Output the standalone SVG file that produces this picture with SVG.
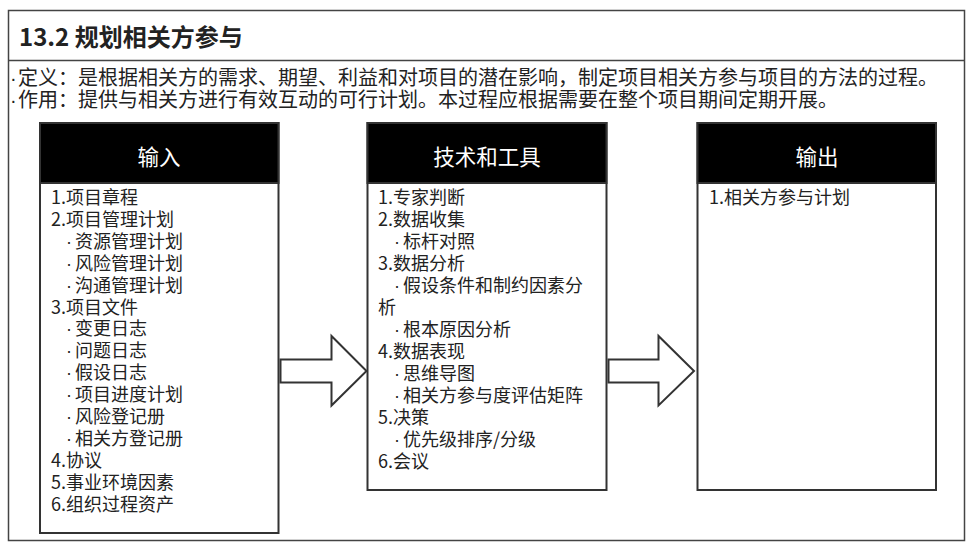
<svg xmlns="http://www.w3.org/2000/svg" width="975" height="550" viewBox="0 0 975 550">
<style>
text { font-family: "Noto Sans CJK SC", "Noto Sans", sans-serif; fill: #222; }
.title { font-size: 24px; font-weight: bold; }
.def { font-size: 20px; }
.hdr { font-size: 21.5px; fill: #fff; text-anchor: middle; }
.item { font-size: 18px; }
.dot { font-family: "Liberation Sans", sans-serif; }
.frame { fill: none; stroke: #444; stroke-width: 1.5; }
.box { fill: #fff; stroke: #333; stroke-width: 2; }
.head { fill: #000; stroke: #333; stroke-width: 2; }
.arrow { fill: #fff; stroke: #333; stroke-width: 2; stroke-linejoin: miter; }
</style>
<rect x="0" y="0" width="975" height="550" fill="#fff"/>
<g id="frame">
<rect class="frame" x="8.5" y="10.5" width="956" height="530"/>
<line class="frame" x1="8.5" y1="60.5" x2="964.5" y2="60.5"/>
<text class="title" x="19" y="46">13.2 规划相关方参与</text>
<text class="def" x="10" y="85"><tspan class="dot">·</tspan><tspan x="18">定义：是根据相关方的需求、期望、利益和对项目的潜在影响，制定项目相关方参与项目的方法的过程。</tspan></text>
<text class="def" x="10" y="107"><tspan class="dot">·</tspan><tspan x="18">作用：提供与相关方进行有效互动的可行计划。本过程应根据需要在整个项目期间定期开展。</tspan></text>
</g>
<g id="input">
<rect class="box" x="40" y="123" width="238.5" height="410"/>
<rect class="head" x="40" y="123" width="238.5" height="60"/>
<text class="hdr" x="159" y="165">输入</text>
<text class="item" x="51" y="204">1.项目章程</text>
<text class="item" x="51" y="225.9">2.项目管理计划</text>
<text class="item" x="66"  y="247.8"><tspan class="dot">·</tspan><tspan x="75">资源管理计划</tspan></text>
<text class="item" x="66"  y="269.7"><tspan class="dot">·</tspan><tspan x="75">风险管理计划</tspan></text>
<text class="item" x="66"  y="291.6"><tspan class="dot">·</tspan><tspan x="75">沟通管理计划</tspan></text>
<text class="item" x="51" y="313.5">3.项目文件</text>
<text class="item" x="66"  y="335.4"><tspan class="dot">·</tspan><tspan x="75">变更日志</tspan></text>
<text class="item" x="66"  y="357.3"><tspan class="dot">·</tspan><tspan x="75">问题日志</tspan></text>
<text class="item" x="66"  y="379.2"><tspan class="dot">·</tspan><tspan x="75">假设日志</tspan></text>
<text class="item" x="66"  y="401.1"><tspan class="dot">·</tspan><tspan x="75">项目进度计划</tspan></text>
<text class="item" x="66"  y="423"><tspan class="dot">·</tspan><tspan x="75">风险登记册</tspan></text>
<text class="item" x="66"  y="444.9"><tspan class="dot">·</tspan><tspan x="75">相关方登记册</tspan></text>
<text class="item" x="51" y="466.8">4.协议</text>
<text class="item" x="51" y="488.7">5.事业环境因素</text>
<text class="item" x="51" y="510.6">6.组织过程资产</text>
</g>
<g id="tools">
<rect class="box" x="367.5" y="123" width="239" height="367"/>
<rect class="head" x="367.5" y="123" width="239" height="60"/>
<text class="hdr" x="487" y="165">技术和工具</text>
<text class="item" x="378" y="204">1.专家判断</text>
<text class="item" x="378" y="226">2.数据收集</text>
<text class="item" x="394" y="248"><tspan class="dot">·</tspan><tspan x="403">标杆对照</tspan></text>
<text class="item" x="378" y="270">3.数据分析</text>
<text class="item" x="394" y="292"><tspan class="dot">·</tspan><tspan x="403">假设条件和制约因素分</tspan></text>
<text class="item" x="378" y="314">析</text>
<text class="item" x="394" y="336"><tspan class="dot">·</tspan><tspan x="403">根本原因分析</tspan></text>
<text class="item" x="378" y="358">4.数据表现</text>
<text class="item" x="394" y="380"><tspan class="dot">·</tspan><tspan x="403">思维导图</tspan></text>
<text class="item" x="394" y="402"><tspan class="dot">·</tspan><tspan x="403">相关方参与度评估矩阵</tspan></text>
<text class="item" x="378" y="424">5.决策</text>
<text class="item" x="394" y="446"><tspan class="dot">·</tspan><tspan x="403">优先级排序/分级</tspan></text>
<text class="item" x="378" y="468">6.会议</text>
</g>
<g id="output">
<rect class="box" x="697.5" y="123" width="238.5" height="367"/>
<rect class="head" x="697.5" y="123" width="238.5" height="60"/>
<text class="hdr" x="817" y="165">输出</text>
<text class="item" x="709" y="204">1.相关方参与计划</text>
</g>
<g id="connectors">
<polygon class="arrow" points="280.5,359.5 331.5,359.5 331.5,336 366.5,371 331.5,405.5 331.5,382.5 280.5,382.5"/>
<polygon class="arrow" points="608.5,359.5 658.5,359.5 658.5,336 694,371 658.5,405.5 658.5,382.5 608.5,382.5"/>
</g>
</svg>
